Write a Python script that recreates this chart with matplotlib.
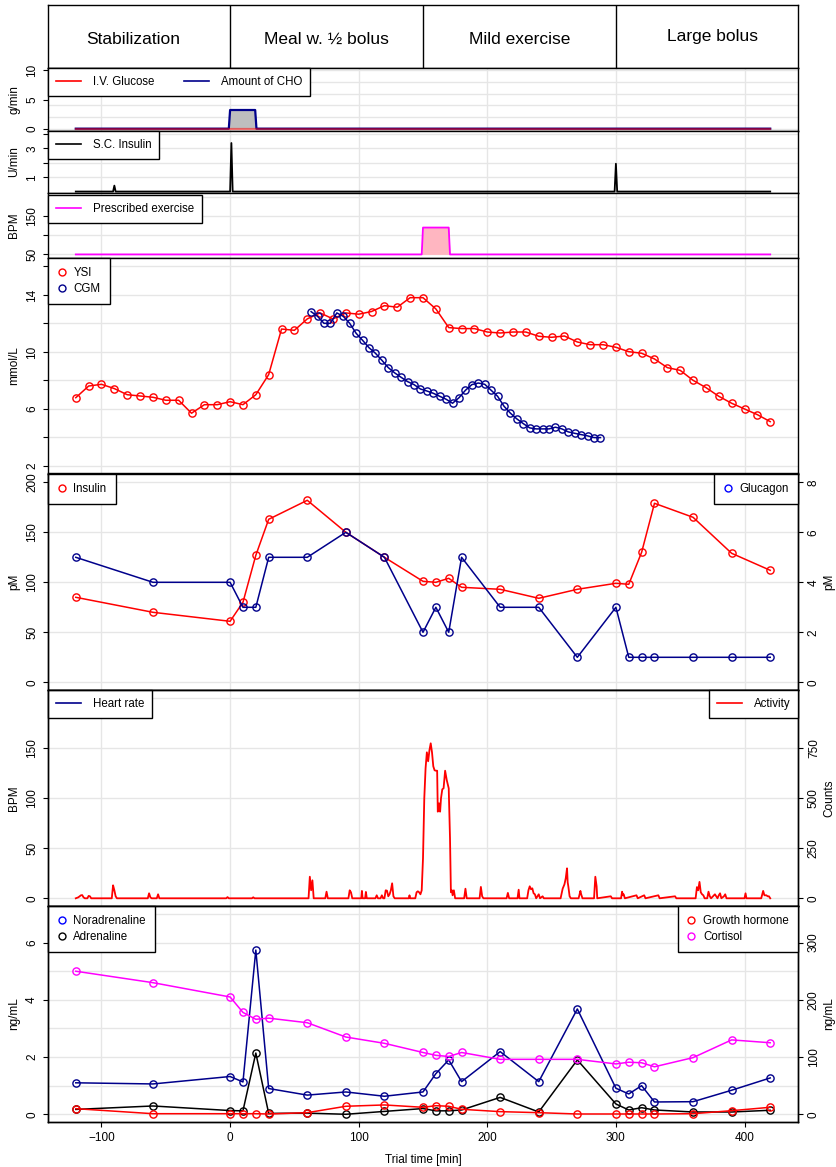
import matplotlib
matplotlib.use("Agg")
import matplotlib.pyplot as plt
from matplotlib.lines import Line2D

plt.rcParams['font.family'] = ['Liberation Sans', 'DejaVu Sans']

# ---------------- data ----------------
phase_names = ["Stabilization", "Meal w. \u00bd bolus", "Mild exercise", "Large bolus"]
phase_centers = [-75, 75, 225, 375]
phase_dividers = [0, 150, 300]

iv_glucose_t = [-120, 420]
iv_glucose_gmin = [0, 0]
cho_t = [-120, -1, 0, 19.5, 20.5, 420]
cho_gmin = [0, 0, 3.2, 3.2, 0, 0]

sc_insulin_t = [-120, -91, -90, -89, 0, 1, 2, 299, 300, 301, 420]
sc_insulin_umin = [0.02, 0.02, 0.43, 0.02, 0.02, 3.37, 0.02, 0.02, 1.94, 0.02, 0.02]

exercise_t = [-120, 149, 150, 170, 171, 420]
exercise_bpm = [50, 50, 120, 120, 50, 50]

ysi_t = list(range(-120, 421, 10))
ysi_mmol = [6.79, 7.61, 7.73, 7.43, 7.00, 6.91, 6.82, 6.61, 6.61, 5.70,
            6.30, 6.30, 6.51, 6.30, 7.00, 8.41, 11.61, 11.52, 12.32, 12.74,
            12.32, 12.74, 12.65, 12.84, 13.25, 13.14, 13.81, 13.81, 13.02, 11.71,
            11.64, 11.64, 11.40, 11.33, 11.40, 11.40, 11.10, 11.03, 11.12, 10.70,
            10.51, 10.51, 10.33, 10.02, 9.91, 9.51, 8.90, 8.71, 8.01, 7.50,
            6.89, 6.40, 6.00, 5.60, 5.11]

cgm_t = list(range(63, 289, 5))
cgm_mmol = [12.83, 12.50, 12.01, 12.01, 12.74, 12.50, 12.01, 11.31, 10.82, 10.30,
            9.91, 9.42, 8.90, 8.53, 8.22, 7.92, 7.71, 7.40, 7.26, 7.10,
            6.89, 6.68, 6.40, 6.79, 7.31, 7.71, 7.82, 7.73, 7.31, 6.89,
            6.19, 5.70, 5.30, 4.97, 4.67, 4.60, 4.60, 4.60, 4.72, 4.60,
            4.39, 4.29, 4.20, 4.11, 3.99, 3.99]

hormone_t = [-120, -60, 0, 10, 20, 30, 60, 90, 120, 150, 160, 170, 180,
             210, 240, 270, 300, 310, 320, 330, 360, 390, 420]
insulin_pm = [85, 70, 61, 80, 127, 163, 182, 150, 125, 101, 100, 104, 95,
              93, 84, 93, 99, 98, 130, 179, 165, 129, 112]
glucagon_pm = [5, 4, 4, 3, 3, 5, 5, 6, 5, 2, 3, 2, 5,
               3, 3, 1, 3, 1, 1, 1, 1, 1, 1]

heart_rate_t = []
heart_rate_bpm = []

activity_t = [-120, -118, -116, -115, -114, -113, -111, -110, -109, -108,
              -92, -91, -90, -89, -88, -64, -63, -62, -61, -57, -56, -55,
              -3, -2, -1, 17, 18, 19, 61, 62, 63, 64, 65, 74, 75, 76,
              92, 93, 94, 95, 102, 102.5, 103, 105, 105.6, 106.3,
              113, 114, 115, 117, 118, 119, 120, 121, 122, 123, 124, 125, 126, 127, 128,
              139, 139.5, 140, 144, 145, 146, 147, 148, 149,
              150, 151, 152, 153, 154, 155, 156, 157, 158, 159, 160, 161, 161.5, 162.5,
              163.3, 164, 165, 166, 167.2, 168.5, 170, 171, 171.7, 172.5, 173, 174, 175,
              182, 183, 184, 194, 195, 196, 197, 215, 216, 217, 223.5, 224.4, 225,
              231, 232, 233, 234, 235, 236, 237, 238, 240, 241, 243, 244,
              257, 258.6, 260, 261, 262, 262.5, 263, 264, 265,
              271, 272.4, 273, 274, 283, 284, 285, 285.5, 296, 297,
              304, 304.8, 305.5, 306, 307, 316, 317, 322, 323, 333, 334, 346, 347,
              362, 363, 364, 365, 366, 367, 368, 369, 371, 372, 373, 374,
              377, 378, 379, 380, 381, 382, 384, 385, 386,
              400, 400.8, 401.5, 413, 414.5, 415.5, 417, 418, 419, 420]
activity_counts = [0, 5, 15, 16, 5, 0, 0, 12, 10, 0,
                   0, 65, 40, 10, 0, 0, 25, 5, 0, 0, 20, 0,
                   0, 6, 0, 0, 5, 0, 0, 108, 40, 90, 0, 0, 33, 0,
                   0, 40, 30, 0, 0, 37, 0, 0, 32, 0,
                   0, 15, 0, 0, 15, 0, 0, 40, 38, 10, 20, 40, 75, 10, 0,
                   0, 15, 0, 0, 30, 35, 30, 20, 40,
                   200, 500, 650, 730, 685, 740, 775, 730, 660, 640, 638, 638, 433, 475,
                   433, 500, 545, 550, 638, 590, 550, 300, 30, 40, 15, 40, 0,
                   0, 48, 0, 0, 57, 10, 0, 0, 27, 0, 0, 43, 0,
                   0, 40, 60, 45, 50, 25, 20, 0, 20, 0, 10, 0,
                   0, 48, 70, 100, 150, 80, 60, 10, 0,
                   0, 37, 20, 0, 0, 108, 60, 0, 10, 0,
                   0, 33, 15, 20, 0, 15, 0, 15, 0, 15, 0, 10, 0,
                   0, 56, 40, 82, 30, 20, 15, 0, 0, 33, 10, 0,
                   20, 10, 0, 15, 25, 0, 10, 20, 0,
                   0, 25, 0, 0, 37, 15, 15, 10, 10, 0]

noradrenaline = [1.10, 1.06, 1.32, 1.13, 5.74, 0.90, 0.67, 0.78, 0.63, 0.78, 1.42, 1.90, 1.14,
                 2.19, 1.14, 3.68, 0.91, 0.71, 1.00, 0.43, 0.44, 0.84, 1.27]
adrenaline = [0.17, 0.29, 0.13, 0.12, 2.14, 0.03, 0.04, 0.00, 0.10, 0.20, 0.12, 0.12, 0.15,
              0.59, 0.08, 1.90, 0.36, 0.15, 0.23, 0.15, 0.08, 0.08, 0.14]
growth_hormone = [9.8, 1.0, 1.0, 1.0, 1.0, 0.5, 2.8, 14.0, 16.3, 12.2, 15.0, 14.0, 8.7,
                  4.6, 2.8, 0.5, 0.5, 0.5, 0.5, 0.5, 1.0, 6.3, 12.2]
cortisol = [250, 230, 205, 178, 166, 168, 160, 135, 124, 108, 103, 101, 108,
            96, 96, 96, 88, 91, 90, 83, 99, 130, 125]

x_ticks = [-100, 0, 100, 200, 300, 400]

# ---------------- styling ----------------
RED = "#FF0000"
NAVY = "#00008B"
BLUE = "#0000FF"
MAG = "#FF00FF"
GRID = "#E6E6E6"
TICK_FS = 8.5
LEG_FS = 8.3

W, H = 836, 1167
XL, XR = 48, 798
XLIM = (-141.6, 441.6)

fig = plt.figure(figsize=(W / 100, H / 100), dpi=100)


def panel(top, bottom):
    ax = fig.add_axes([XL / W, 1 - bottom / H, (XR - XL) / W, (bottom - top) / H])
    ax.set_xlim(*XLIM)
    ax.set_axisbelow(True)
    for s in ax.spines.values():
        s.set_linewidth(1.0)
        s.set_color("black")
    ax.tick_params(axis="x", bottom=False, labelbottom=False)
    ax.tick_params(axis="y", direction="out", length=3.6, width=0.8, pad=3.5,
                   labelsize=TICK_FS, labelrotation=90)
    for xv in x_ticks:
        ax.axvline(xv, color=GRID, lw=1.0, zorder=0)
    return ax


def yaxis(ax, lim, grid, ticks, labels=None, ylabel=None):
    ax.set_ylim(*lim)
    for g in grid:
        ax.axhline(g, color=GRID, lw=1.0, zorder=0)
    ax.set_yticks(ticks)
    if labels is not None:
        ax.set_yticklabels(labels)
    for t in ax.get_yticklabels():
        t.set_va("center")
    if ylabel:
        ax.set_ylabel(ylabel, fontsize=TICK_FS)
        ax.yaxis.set_label_coords(-28 / (XR - XL), 0.5)


def right_axis(ax, lim, ticks, ylabel):
    ax2 = ax.twinx()
    ax2.set_xlim(*XLIM)
    ax2.set_ylim(*lim)
    ax2.set_yticks(ticks)
    ax2.tick_params(axis="y", direction="out", length=3.6, width=0.8, pad=3.5,
                    labelsize=TICK_FS, labelrotation=90)
    for t in ax2.get_yticklabels():
        t.set_va("center")
    ax2.set_ylabel(ylabel, fontsize=TICK_FS)
    ax2.yaxis.set_label_coords(1 + 25 / (XR - XL), 0.5)
    for s in ax2.spines.values():
        s.set_linewidth(1.0)
    return ax2


def legend(ax, handles, labels, loc, **kw):
    opts = dict(loc=loc, fontsize=LEG_FS, frameon=True, fancybox=False,
                edgecolor="black", framealpha=1, borderaxespad=0,
                borderpad=0.7, handletextpad=1.0, labelspacing=0.25)
    opts.update(kw)
    lg = ax.legend(handles, labels, **opts)
    lg.get_frame().set_linewidth(1.0)
    lg.set_zorder(10)
    return lg


def circ(c):
    return Line2D([], [], ls="none", marker="o", mfc="none", mec=c, ms=5, mew=1)


def seg(c):
    return Line2D([], [], color=c, lw=1.2)


MK = dict(marker="o", mfc="none", ms=5.2, mew=1.0, lw=1.1)
LINE_LEG = dict(handlelength=2.2, borderpad=0.68)
PT_LEG = dict(handlelength=0.8, handletextpad=0.6, borderpad=0.8, labelspacing=0.35)

# ---------------- header ----------------
axh = fig.add_axes([XL / W, 1 - 68 / H, (XR - XL) / W, 63 / H])
axh.set_xlim(*XLIM)
axh.set_ylim(0, 1)
axh.set_xticks([])
axh.set_yticks([])
for s in axh.spines.values():
    s.set_linewidth(1.0)
for d in phase_dividers:
    axh.axvline(d, color="black", lw=1.0)
for i, (name, xc) in enumerate(zip(phase_names, phase_centers)):
    yy = 0.50 if i == 3 else 0.45
    axh.text(xc, yy, name, ha="center", va="center", fontsize=12.5)

# ---------------- carbohydrate / IV glucose ----------------
ax1 = panel(68, 131)
yaxis(ax1, (-0.4, 10.4), [0, 2, 4, 6, 8, 10], [0, 5, 10], ylabel="g/min")
ax1.fill_between(cho_t, 0, cho_gmin, color="#BEBEBE", lw=0, zorder=2)
ax1.plot(cho_t, cho_gmin, color=NAVY, lw=1.6, zorder=3)
ax1.plot(iv_glucose_t, iv_glucose_gmin, color=RED, lw=1.6, alpha=0.5, zorder=4)
legend(ax1, [seg(RED), seg(NAVY)], ["I.V. Glucose", "Amount of CHO"], "upper left",
       ncol=2, columnspacing=2.6, **LINE_LEG)

# ---------------- SC insulin ----------------
ax2 = panel(131, 193)
yaxis(ax2, (-0.08, 4.2), [1, 2, 3, 4], [1, 2, 3, 4], ["1", "", "3", ""], ylabel="U/min")
ax2.plot(sc_insulin_t, sc_insulin_umin, color="black", lw=1.3, zorder=3)
legend(ax2, [seg("black")], ["S.C. Insulin"], "upper left", **LINE_LEG)

# ---------------- prescribed exercise ----------------
ax3 = panel(193, 257.5)
yaxis(ax3, (42, 210), [50, 100, 150, 200], [50, 100, 150], ["50", "", "150"], ylabel="BPM")
ax3.fill_between(exercise_t, exercise_bpm[0], exercise_bpm, color="#FFB6C1", lw=0, zorder=2)
ax3.plot(exercise_t, exercise_bpm, color=MAG, lw=1.3, zorder=3)
legend(ax3, [seg(MAG)], ["Prescribed exercise"], "upper left",
       bbox_to_anchor=(0, 0.97), **LINE_LEG)

# ---------------- glucose ----------------
ax4 = panel(257.5, 473.5)
yaxis(ax4, (1.47, 16.63), list(range(2, 17, 2)), list(range(2, 17, 2)),
      ["2", "", "6", "", "10", "", "14", ""], ylabel="mmol/L")
ax4.plot(ysi_t, ysi_mmol, color=RED, mec=RED, zorder=3, **MK)
ax4.plot(cgm_t, cgm_mmol, color=NAVY, mec=NAVY, zorder=4, **MK)
legend(ax4, [circ(RED), circ(NAVY)], ["YSI", "CGM"], "upper left", **PT_LEG)

# ---------------- insulin / glucagon ----------------
ax5 = panel(473.5, 690)
yaxis(ax5, (-7.7, 208.8), [0, 50, 100, 150, 200], [0, 50, 100, 150, 200], ylabel="pM")
ax5.plot(hormone_t, insulin_pm, color=RED, mec=RED, zorder=3, **MK)
ax5r = right_axis(ax5, (-7.7 / 25, 208.8 / 25), [0, 2, 4, 6, 8], "pM")
ax5r.plot(hormone_t, glucagon_pm, color=NAVY, mec=NAVY, zorder=3, **MK)
legend(ax5, [circ(RED)], ["Insulin"], "upper left", **PT_LEG)
legend(ax5r, [circ(BLUE)], ["Glucagon"], "upper right", **PT_LEG)

# ---------------- heart rate / activity ----------------
ax6 = panel(690, 906)
yaxis(ax6, (-7.7, 208.3), [0, 50, 100, 150, 200], [0, 50, 100, 150], ylabel="BPM")
ax6.plot(heart_rate_t, heart_rate_bpm, color=NAVY, lw=1.2)
ax6r = right_axis(ax6, (-7.7 * 5, 208.3 * 5), [0, 250, 500, 750], "Counts")
ax6r.plot(activity_t, activity_counts, color=RED, lw=1.3, zorder=3)
legend(ax6, [seg(NAVY)], ["Heart rate"], "upper left", **LINE_LEG)
legend(ax6r, [seg(RED)], ["Activity"], "upper right", **LINE_LEG)

# ---------------- catecholamines / GH / cortisol ----------------
ax7 = panel(906, 1122)
yaxis(ax7, (-0.27, 7.28), list(range(0, 8)), [0, 2, 4, 6], ylabel="ng/mL")
ax7.plot(hormone_t, noradrenaline, color=NAVY, mec=NAVY, zorder=3, **MK)
ax7.plot(hormone_t, adrenaline, color="black", mec="black", zorder=3, **MK)
ax7r = right_axis(ax7, (-0.27 * 50, 7.28 * 50), [0, 100, 200, 300], "ng/mL")
ax7r.plot(hormone_t, growth_hormone, color=RED, mec=RED, zorder=3, **MK)
ax7r.plot(hormone_t, cortisol, color=MAG, mec=MAG, zorder=3, **MK)
legend(ax7, [circ(BLUE), circ("black")], ["Noradrenaline", "Adrenaline"], "upper left",
       **PT_LEG)
legend(ax7r, [circ(RED), circ(MAG)], ["Growth hormone", "Cortisol"], "upper right",
       **PT_LEG)

ax7.tick_params(axis="x", bottom=True, labelbottom=True, direction="out", length=3.6,
                width=0.8, pad=3.5, labelsize=TICK_FS)
ax7.set_xticks(x_ticks)
ax7.set_xlabel("Trial time [min]", fontsize=TICK_FS, labelpad=7)

fig.savefig("out.png", dpi=100)
